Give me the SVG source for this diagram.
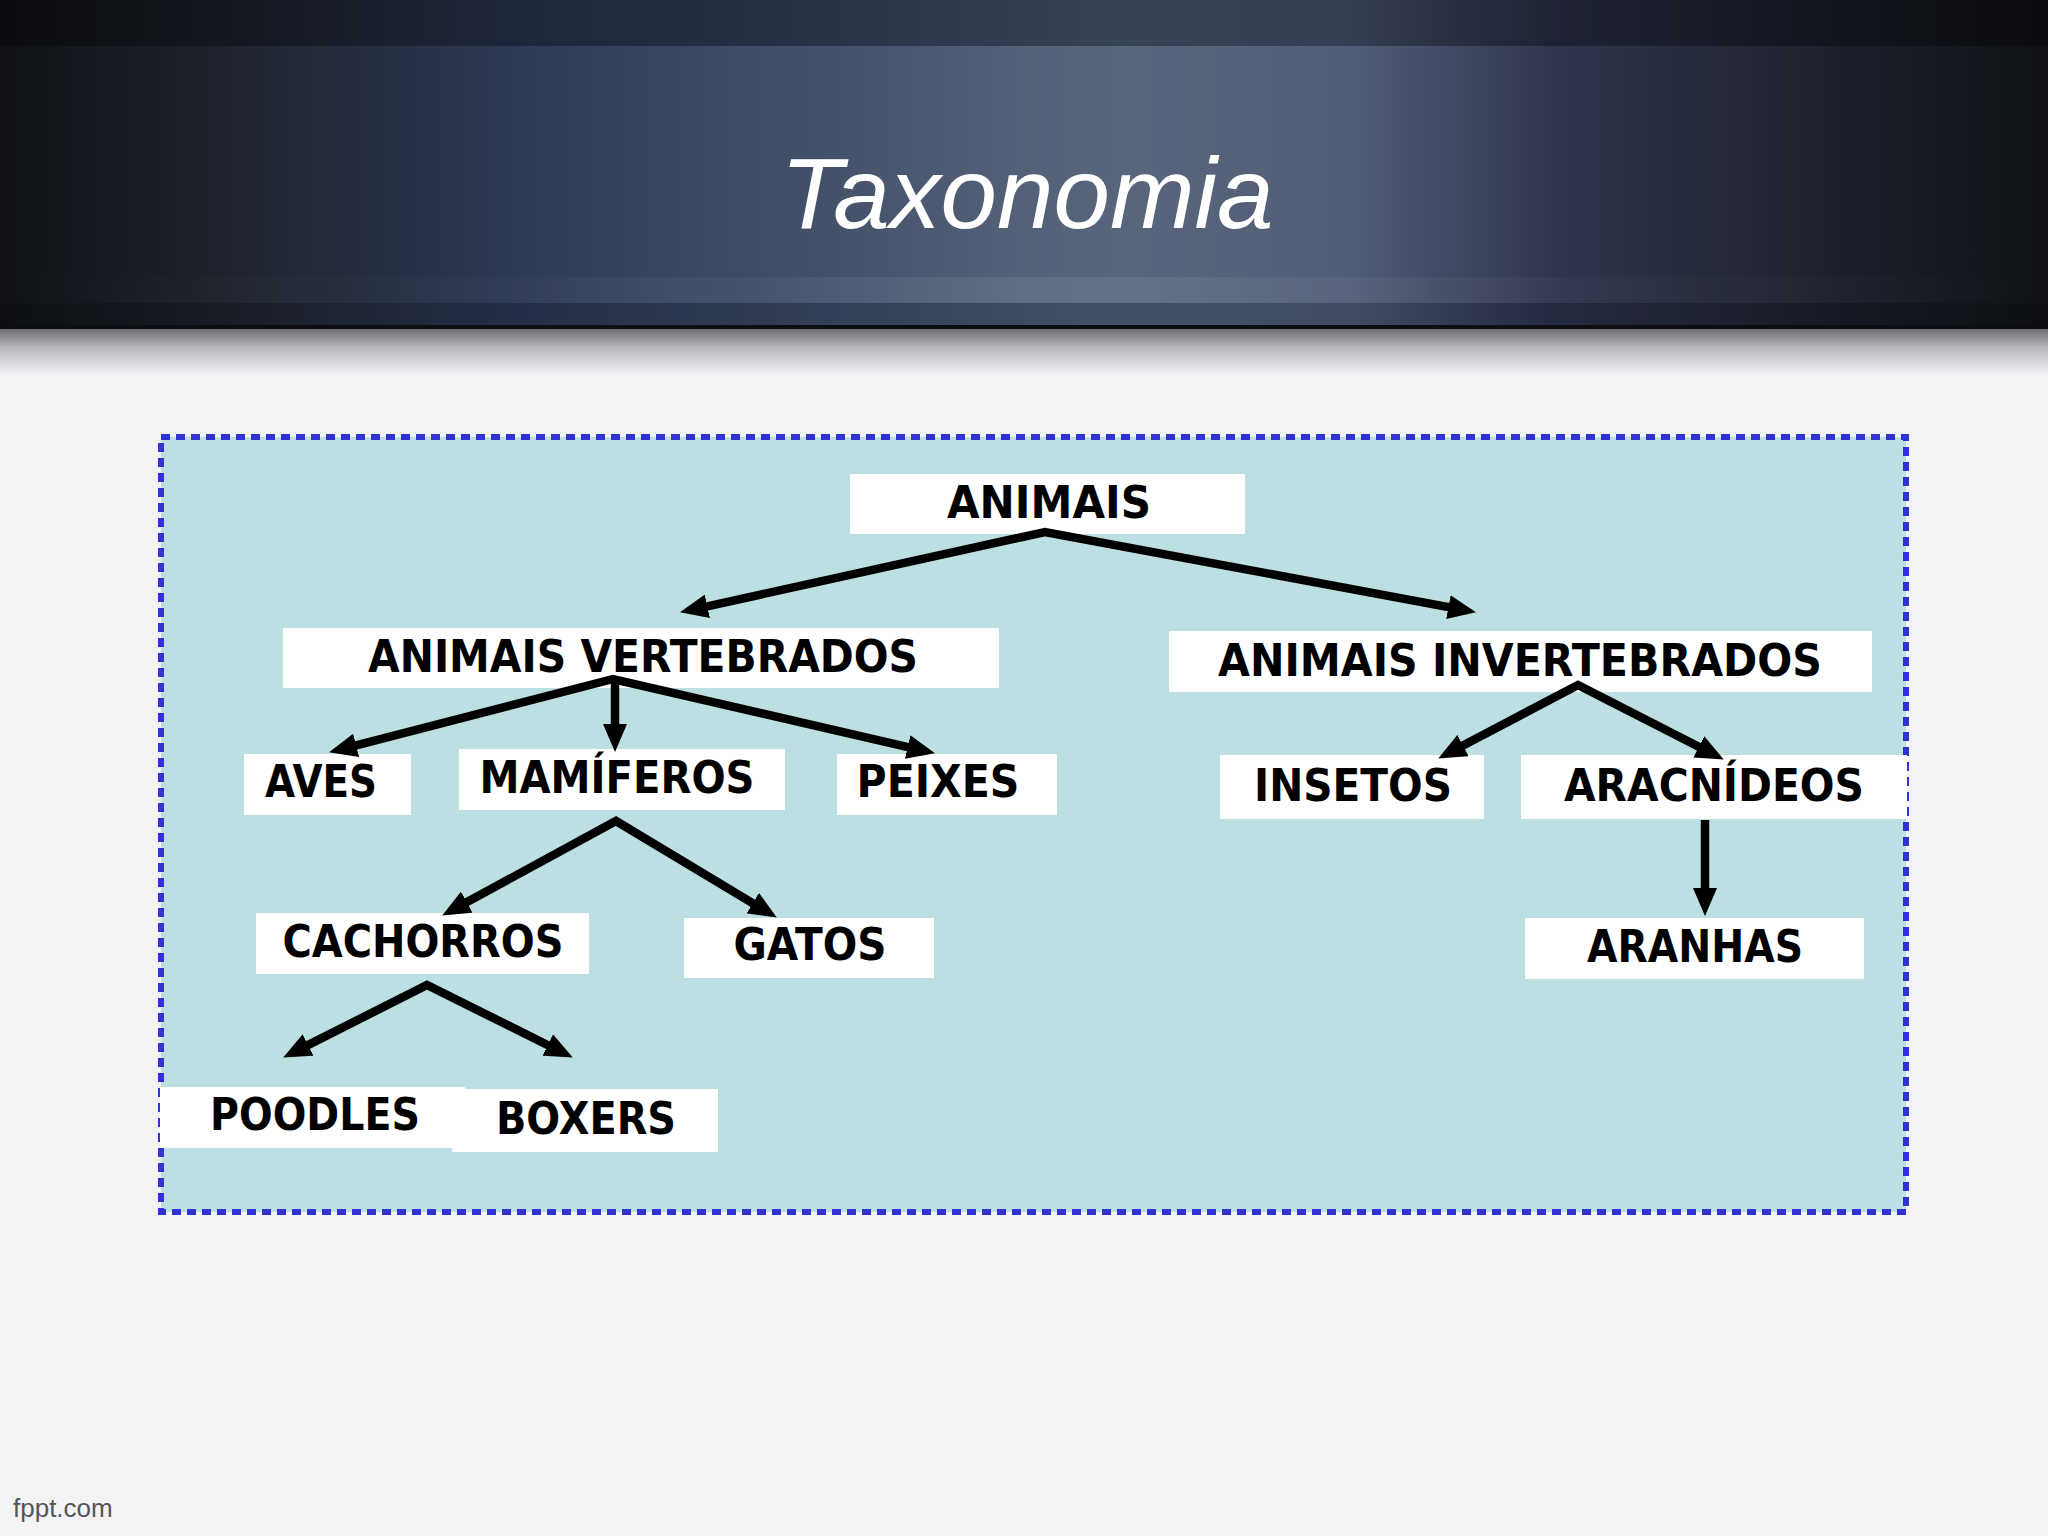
<svg xmlns="http://www.w3.org/2000/svg" width="2048" height="1536" viewBox="0 0 2048 1536">
<defs>
<linearGradient id="hdr" x1="0" y1="0" x2="1" y2="0">
<stop offset="0" stop-color="#101216"/>
<stop offset="0.1" stop-color="#1b1f28"/>
<stop offset="0.25" stop-color="#2a3550"/>
<stop offset="0.42" stop-color="#3c4a64"/>
<stop offset="0.55" stop-color="#4d5c74"/>
<stop offset="0.66" stop-color="#4a5670"/>
<stop offset="0.76" stop-color="#2a3048"/>
<stop offset="0.9" stop-color="#1a1d28"/>
<stop offset="1" stop-color="#101216"/>
</linearGradient>
<linearGradient id="hl" x1="0" y1="0" x2="1" y2="0">
<stop offset="0" stop-color="#ffffff" stop-opacity="0"/>
<stop offset="0.25" stop-color="#ffffff" stop-opacity="0.04"/>
<stop offset="0.5" stop-color="#ffffff" stop-opacity="0.14"/>
<stop offset="0.72" stop-color="#ffffff" stop-opacity="0.06"/>
<stop offset="1" stop-color="#ffffff" stop-opacity="0"/>
</linearGradient>
<linearGradient id="shadow" x1="0" y1="0" x2="0" y2="1">
<stop offset="0" stop-color="#6e6e72"/>
<stop offset="0.4" stop-color="#b8b8bc"/>
<stop offset="1" stop-color="#f3f2f5"/>
</linearGradient>
<marker id="ah" viewBox="0 0 28 24" markerWidth="28" markerHeight="24" refX="7" refY="12" orient="auto-start-reverse" markerUnits="userSpaceOnUse">
<path d="M0,0 L28,12 L0,24 z" fill="#000"/>
</marker>
<style>
.box{fill:#ffffff}
.lbl{font-family:"DejaVu Sans","Verdana",sans-serif;font-weight:bold;font-size:44px;fill:#000}
.arr{fill:none;stroke:#000;stroke-width:8.5;stroke-linejoin:miter;stroke-miterlimit:10}
</style>
</defs>
<rect x="0" y="0" width="2048" height="1536" fill="#f3f2f5"/>
<!-- header -->
<rect x="0" y="0" width="2048" height="328" fill="url(#hdr)"/>
<rect x="0" y="0" width="2048" height="46" fill="#000" opacity="0.28"/>
<rect x="0" y="46" width="2048" height="231" fill="url(#hl)" opacity="0.5"/>
<rect x="0" y="277" width="2048" height="26" fill="url(#hl)"/>
<rect x="0" y="303" width="2048" height="22" fill="#000" opacity="0.12"/>
<rect x="0" y="325" width="2048" height="4" fill="#0c0e12"/>
<rect x="0" y="329" width="2048" height="46" fill="url(#shadow)"/>
<text x="1027" y="228" text-anchor="middle" font-family="Liberation Sans, Arial, sans-serif" font-style="italic" font-size="100" fill="#ffffff" textLength="493" lengthAdjust="spacingAndGlyphs">Taxonomia</text>
<!-- diagram frame -->
<rect x="161" y="437" width="1745" height="775" fill="#bcdfe3" stroke="#3232d2" stroke-width="6" stroke-dasharray="9 6"/>
<!-- nodes -->
<g id="n-animais"><rect class="box" x="850" y="474" width="395" height="60"/><text class="lbl" x="1049" y="518" text-anchor="middle" textLength="204" lengthAdjust="spacingAndGlyphs">ANIMAIS</text></g>
<g id="n-vert"><rect class="box" x="283" y="628" width="716" height="60"/><text class="lbl" x="643" y="672" text-anchor="middle" textLength="550" lengthAdjust="spacingAndGlyphs">ANIMAIS VERTEBRADOS</text></g>
<g id="n-invert"><rect class="box" x="1169" y="631" width="703" height="61"/><text class="lbl" x="1520" y="676" text-anchor="middle" textLength="604" lengthAdjust="spacingAndGlyphs">ANIMAIS INVERTEBRADOS</text></g>
<g id="n-aves"><rect class="box" x="244" y="754" width="167" height="61"/><text class="lbl" x="321" y="797" text-anchor="middle" textLength="112" lengthAdjust="spacingAndGlyphs">AVES</text></g>
<g id="n-mamiferos"><rect class="box" x="459" y="749" width="326" height="61"/><text class="lbl" x="617" y="793" text-anchor="middle" textLength="275" lengthAdjust="spacingAndGlyphs">MAMÍFEROS</text></g>
<g id="n-peixes"><rect class="box" x="837" y="754" width="220" height="61"/><text class="lbl" x="938" y="797" text-anchor="middle" textLength="163" lengthAdjust="spacingAndGlyphs">PEIXES</text></g>
<g id="n-insetos"><rect class="box" x="1220" y="755" width="264" height="64"/><text class="lbl" x="1353" y="801" text-anchor="middle" textLength="198" lengthAdjust="spacingAndGlyphs">INSETOS</text></g>
<g id="n-aracnideos"><rect class="box" x="1521" y="755" width="386" height="64"/><text class="lbl" x="1714" y="801" text-anchor="middle" textLength="300" lengthAdjust="spacingAndGlyphs">ARACNÍDEOS</text></g>
<g id="n-aranhas"><rect class="box" x="1525" y="918" width="339" height="61"/><text class="lbl" x="1695" y="962" text-anchor="middle" textLength="216" lengthAdjust="spacingAndGlyphs">ARANHAS</text></g>
<g id="n-cachorros"><rect class="box" x="256" y="913" width="333" height="61"/><text class="lbl" x="423" y="957" text-anchor="middle" textLength="281" lengthAdjust="spacingAndGlyphs">CACHORROS</text></g>
<g id="n-gatos"><rect class="box" x="684" y="918" width="250" height="60"/><text class="lbl" x="810" y="960" text-anchor="middle" textLength="153" lengthAdjust="spacingAndGlyphs">GATOS</text></g>
<g id="n-poodles"><rect class="box" x="160" y="1087" width="305" height="61"/><text class="lbl" x="315" y="1130" text-anchor="middle" textLength="210" lengthAdjust="spacingAndGlyphs">POODLES</text></g>
<g id="n-boxers"><rect class="box" x="452" y="1089" width="266" height="63"/><text class="lbl" x="586" y="1134" text-anchor="middle" textLength="180" lengthAdjust="spacingAndGlyphs">BOXERS</text></g>
<!-- connectors -->
<g id="connectors">
<path class="arr" d="M700.5,607.8 L1045,532 L1455.3,608.4" marker-start="url(#ah)" marker-end="url(#ah)"/>
<path class="arr" d="M349.4,747.1 L613,679 L914.5,748.6" marker-start="url(#ah)" marker-end="url(#ah)"/>
<path class="arr" d="M615,680 L615,731" marker-end="url(#ah)"/>
<path class="arr" d="M460.6,905.5 L616,821 L758.8,906.8" marker-start="url(#ah)" marker-end="url(#ah)"/>
<path class="arr" d="M301.9,1048.1 L427,985 L554,1048.2" marker-start="url(#ah)" marker-end="url(#ah)"/>
<path class="arr" d="M1456.8,748.8 L1578,685 L1705.1,750" marker-start="url(#ah)" marker-end="url(#ah)"/>
<path class="arr" d="M1705,820 L1705,895" marker-end="url(#ah)"/>
</g>
<text x="13" y="1517" font-family="Liberation Sans, Arial, sans-serif" font-size="26" fill="#555555">fppt.com</text>
</svg>
